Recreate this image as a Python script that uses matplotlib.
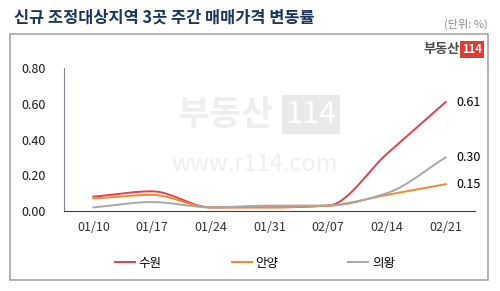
import numpy as np
import matplotlib.pyplot as plt
from matplotlib.lines import Line2D
from matplotlib.patches import Rectangle

plt.rcParams['font.family'] = ['Noto Sans CJK KR', 'DejaVu Sans']

# data
weeks = ['01/10', '01/17', '01/24', '01/31', '02/07', '02/14', '02/21']
suwon = [0.08, 0.11, 0.02, 0.02, 0.03, 0.32, 0.61]
anyang = [0.07, 0.09, 0.02, 0.02, 0.03, 0.09, 0.15]
uiwang = [0.02, 0.05, 0.02, 0.03, 0.03, 0.10, 0.30]
names = ['수원', '안양', '의왕']
colors = ['#e5404f', '#f08a2e', '#a8a8a8']


def smooth(y, n=30):
    # monotone cubic (no overshoot) to mimic the smoothed lines
    y = np.asarray(y, dtype=float)
    k = len(y)
    d = np.diff(y)
    m = np.zeros(k)
    m[0], m[-1] = d[0], d[-1]
    for i in range(1, k - 1):
        if d[i - 1] * d[i] > 0:
            m[i] = 2 / (1 / d[i - 1] + 1 / d[i])
        else:
            m[i] = 0.0
    xs, ys = [], []
    for i in range(k - 1):
        t = np.linspace(0, 1, n, endpoint=False)
        h00 = 2 * t ** 3 - 3 * t ** 2 + 1
        h10 = t ** 3 - 2 * t ** 2 + t
        h01 = -2 * t ** 3 + 3 * t ** 2
        h11 = t ** 3 - t ** 2
        xs.append(i + t)
        ys.append(h00 * y[i] + h10 * m[i] + h01 * y[i + 1] + h11 * m[i + 1])
    xs.append([k - 1])
    ys.append([y[-1]])
    return np.concatenate(xs), np.concatenate(ys)


fig = plt.figure(figsize=(5, 2.91), dpi=100)

# outer frame
fig.patches.append(Rectangle((0.02, 0.038), 0.956, 0.845, transform=fig.transFigure,
                             fill=False, edgecolor='#a6a6a6', linewidth=1.2))

fig.text(0.028, 0.94, '신규 조정대상지역 3곳 주간 매매가격 변동률', fontsize=11.8,
         fontweight='bold', color='#1b365d', va='center', ha='left')
fig.text(0.976, 0.915, '(단위: %)', fontsize=8, color='#8c8c8c', va='center', ha='right')

# logo
fig.text(0.92, 0.83, '부동산', fontsize=9.5, fontweight='heavy', color='#4a4a4a',
         va='center', ha='right')
fig.text(0.944, 0.83, '114', fontsize=8, fontweight='bold', color='white', va='center',
         ha='center', bbox=dict(boxstyle='square,pad=0.15', fc='#e03c31', ec='none'))

ax = fig.add_axes([0.128, 0.275, 0.822, 0.491])
x = np.arange(len(weeks))

# watermark
ax.text(2.25, 0.54, '부동산', fontsize=25, fontweight='bold', color='#eeeeee',
        ha='center', va='center', zorder=0)
ax.text(3.71, 0.54, '114', fontsize=22, color='white', ha='center', va='center', zorder=0,
        bbox=dict(boxstyle='square,pad=0.12', fc='#e9e9e9', ec='none'))
ax.text(2.75, 0.26, 'www.r114.com', fontsize=17, color='#efefef', ha='center',
        va='center', zorder=0)

for vals, c in zip([suwon, anyang, uiwang], colors):
    sx, sy = smooth(vals)
    ax.plot(sx, sy, color=c, linewidth=1.4, zorder=3)
    ax.text(x[-1] + 0.18, vals[-1], f'{vals[-1]:.2f}', fontsize=9, va='center',
            ha='left', color='black')

ax.set_xlim(-0.5, 6.5)
ax.set_ylim(0, 0.8)
ax.set_xticks(x)
ax.set_xticklabels(weeks)
ax.set_yticks([0, 0.2, 0.4, 0.6, 0.8])
ax.set_yticklabels(['0.00', '0.20', '0.40', '0.60', '0.80'])
ax.tick_params(axis='x', length=0, pad=7, labelsize=9, colors='#333333')
ax.tick_params(axis='y', length=0, pad=13, labelsize=9, colors='#1a1a1a')
for s in ['top', 'right']:
    ax.spines[s].set_visible(False)
ax.spines['left'].set_color('#7d8a9a')
ax.spines['bottom'].set_color('#404040')
ax.patch.set_alpha(0)

handles = [Line2D([], [], color=c, linewidth=1.4) for c in colors]
fig.legend(handles, names, loc='center', bbox_to_anchor=(0.51, 0.096), ncol=3,
           frameon=False, fontsize=9, handlelength=1.6, handletextpad=0.3,
           columnspacing=5.6)

fig.savefig('out.png', dpi=100)
